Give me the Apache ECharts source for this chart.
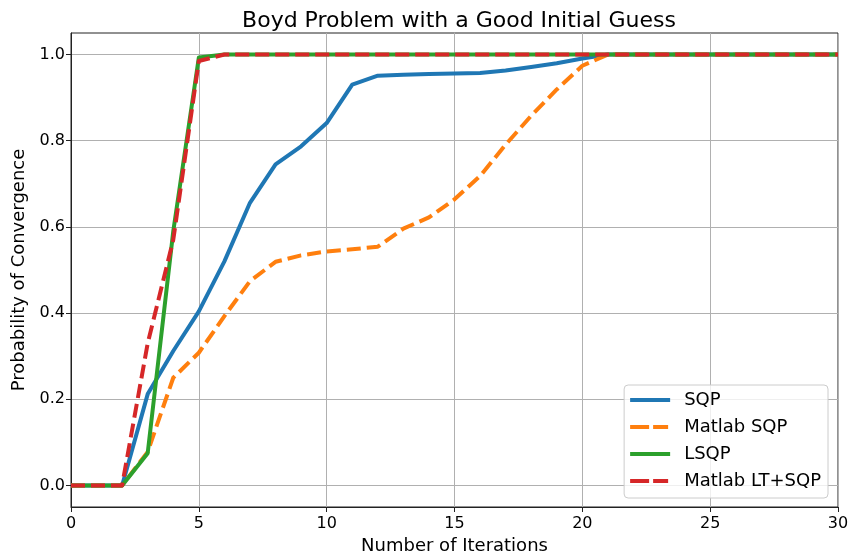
<!DOCTYPE html>
<html>
<head>
<meta charset="utf-8">
<script src="https://cdn.jsdelivr.net/npm/echarts@6/dist/echarts.min.js"></script>
<style>
  html, body { margin: 0; padding: 0; background: #fff; }
  #chart { width: 851px; height: 557px; }
</style>
</head>
<body>
<div id="chart"></div>
<script>
// Iteration counts 0..30
const iterations = [0,1,2,3,4,5,6,7,8,9,10,11,12,13,14,15,16,17,18,19,20,21,22,23,24,25,26,27,28,29,30];

// Probability of convergence per iteration
const sqp = [0,0,0,0.212,0.312,0.404,0.52,0.656,0.745,0.787,0.841,0.930,0.951,0.953,0.955,0.956,0.957,0.963,0.971,0.980,0.991,1,1,1,1,1,1,1,1,1,1];
const matlabSqp = [0,0,0,0.078,0.25,0.308,0.393,0.474,0.519,0.534,0.543,0.548,0.554,0.596,0.622,0.664,0.718,0.791,0.858,0.919,0.974,1,1,1,1,1,1,1,1,1,1];
const lsqp = [0,0,0,0.075,0.59,0.993,1,1,1,1,1,1,1,1,1,1,1,1,1,1,1,1,1,1,1,1,1,1,1,1,1];
const matlabLtSqp = [0,0,0,0.33,0.57,0.985,1,1,1,1,1,1,1,1,1,1,1,1,1,1,1,1,1,1,1,1,1,1,1,1,1];

const xTicks = [0,5,10,15,20,25,30];
const yTicks = [0,0.2,0.4,0.6,0.8,1.0];

const seriesNames = ['SQP', 'Matlab SQP', 'LSQP', 'Matlab LT+SQP'];
const seriesColors = ['#1f77b4', '#ff7f0e', '#2ca02c', '#d62728'];
const seriesDashed = [false, true, false, true];

const pairs = ys => iterations.map((x, i) => [x, ys[i]]);

const font = 'DejaVu Sans';

// legend swatches: a solid bar or two dashes
const solidIcon = 'path://M0,0H40V4H0Z';
const dashIcon = 'path://M0,0H19V4H0Z M23,0H38V4H23Z M39.9,0H40V0.01H39.9Z';

function lineSeries(name, data, color, dashed) {
  return {
    name: name,
    type: 'line',
    data: pairs(data),
    symbol: 'none',
    smooth: false,
    animation: false,
    color: color,
    lineStyle: {
      color: color,
      width: 4,
      type: dashed ? [14, 6] : 'solid',
      cap: 'butt',
      join: 'round'
    },
    itemStyle: { color: color }
  };
}

const chart = echarts.init(document.getElementById('chart'), null, { renderer: 'canvas' });

chart.setOption({
  animation: false,
  backgroundColor: '#fff',
  title: {
    text: 'Boyd Problem with a Good Initial Guess',
    left: 454,
    textAlign: 'center',
    top: 5,
    textStyle: { fontFamily: font, fontSize: 22, fontWeight: 'normal', color: '#000' }
  },
  grid: {
    left: 71, right: 13, top: 33, bottom: 50,
    outerBoundsMode: 'none',
    containLabel: false,
    show: true,
    borderColor: '#222',
    borderWidth: 1,
    backgroundColor: 'transparent'
  },
  legend: {
    orient: 'vertical',
    right: 23,
    bottom: 59,
    data: seriesNames.map((n, i) => ({
      name: n,
      icon: seriesDashed[i] ? dashIcon : solidIcon,
      itemStyle: { color: seriesColors[i] }
    })),
    itemWidth: 40,
    itemHeight: 4,
    itemGap: 9,
    padding: [6, 7, 8, 6],
    backgroundColor: 'rgba(255,255,255,0.8)',
    borderColor: '#cccccc',
    borderWidth: 1,
    borderRadius: 4,
    textStyle: { fontFamily: font, fontSize: 18, lineHeight: 18, color: '#000', padding: [0, 0, 0, 9] }
  },
  xAxis: {
    type: 'value',
    min: 0,
    max: 30,
    interval: 5,
    name: 'Number of Iterations',
    nameLocation: 'middle',
    nameGap: 27,
    nameTextStyle: { fontFamily: font, fontSize: 18, color: '#000' },
    axisLine: { show: true, onZero: false, lineStyle: { color: '#222', width: 1 } },
    axisTick: { show: true, inside: false, length: 5, lineStyle: { color: '#222' } },
    axisLabel: {
      fontFamily: font, fontSize: 16, color: '#000', margin: 9,
      customValues: xTicks,
      formatter: v => String(v)
    },
    splitLine: { show: true, lineStyle: { color: '#b0b0b0', width: 1 } }
  },
  yAxis: {
    type: 'value',
    min: -0.05,
    max: 1.05,
    name: 'Probability of Convergence',
    nameLocation: 'middle',
    nameGap: 36,
    nameTextStyle: { fontFamily: font, fontSize: 18, color: '#000' },
    axisLine: { show: true, onZero: false, lineStyle: { color: '#222', width: 1 } },
    axisTick: { show: true, inside: false, length: 5, customValues: yTicks, lineStyle: { color: '#222' } },
    axisLabel: {
      fontFamily: font, fontSize: 16, color: '#000', margin: 6,
      customValues: yTicks,
      formatter: v => Number(v).toFixed(1)
    },
    splitLine: { show: true, lineStyle: { color: '#b0b0b0', width: 1 } }
  },
  series: seriesNames.map((n, i) =>
    lineSeries(n, [sqp, matlabSqp, lsqp, matlabLtSqp][i], seriesColors[i], seriesDashed[i]))
});
</script>
</body>
</html>
